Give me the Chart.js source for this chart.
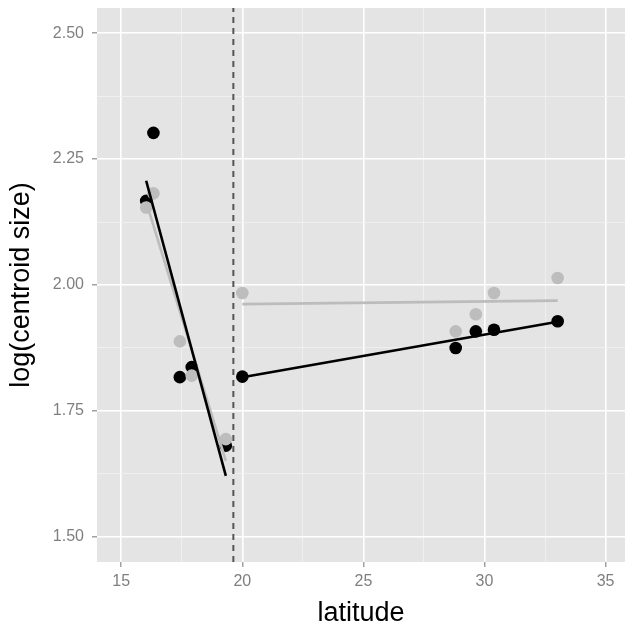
<!DOCTYPE html>
<html>
<head>
<meta charset="utf-8">
<script src="https://cdn.jsdelivr.net/npm/chart.js@4.4.1/dist/chart.umd.min.js"></script>
<style>
  html, body { margin: 0; padding: 0; background: #fff; overflow: hidden; }
  #wrap { width: 625px; height: 625px; }
  canvas { display: block; }
</style>
</head>
<body>
<div id="wrap"><canvas id="chart" width="625" height="625"></canvas></div>
<script>
// site latitudes (shared by both groups)
var latitudes = [16.03, 16.33, 17.42, 17.91, 19.32, 20.0, 28.81, 29.64, 30.39, 33.02];
// log(centroid size)
var sizeBlack = [2.167, 2.302, 1.817, 1.837, 1.681, 1.818, 1.875, 1.908, 1.911, 1.928];
var sizeGrey  = [2.154, 2.182, 1.888, 1.820, 1.694, 1.984, 1.908, 1.942, 1.984, 2.014];

// fitted segments: [start, end]
var fitLatSouth = [16.03, 19.32];
var fitLatNorth = [20.0, 33.02];
var fitBlackSouth = [2.207, 1.621];
var fitBlackNorth = [1.817, 1.927];
var fitGreySouth  = [2.165, 1.651];
var fitGreyNorth  = [1.962, 1.969];

// breakpoint
var breakLat = 19.63;

var xMin = 14, xMax = 35.8;
var yMin = 1.45, yMax = 2.55;
var xMajor = [15, 20, 25, 30, 35];
var xMinor = [17.5, 22.5, 27.5, 32.5];
var yMajor = [1.5, 1.75, 2.0, 2.25, 2.5];
var yMinor = [1.625, 1.875, 2.125, 2.375];

function pts(xs, ys) {
    var out = [];
    for (var i = 0; i < xs.length; i++) out.push({x: xs[i], y: ys[i]});
    return out;
}
function isMajor(list, v) {
    for (var i = 0; i < list.length; i++) if (Math.abs(list[i] - v) < 1e-6) return true;
    return false;
}

var panelBg = {
    id: 'panelBg',
    // panel runs to the right edge of the picture, like the cropped original
    afterLayout: function (chart) {
        var x = chart.scales.x;
        chart.chartArea.right = chart.width;
        chart.chartArea.width = chart.width - chart.chartArea.left;
        x.right = chart.width;
        x.width = chart.width - x.left;
        x.configure();
    },
    beforeDraw: function (chart) {
        var a = chart.chartArea, ctx = chart.ctx;
        ctx.save();
        ctx.fillStyle = '#e4e4e4';
        ctx.fillRect(a.left, a.top, a.right - a.left, a.bottom - a.top);
        ctx.restore();
    }
};

var lineStyle = function (color) {
    return { showLine: true, pointRadius: 0, borderColor: color, borderWidth: 2.6, fill: false };
};

var ctx = document.getElementById('chart').getContext('2d');
new Chart(ctx, {
    type: 'scatter',
    data: {
        datasets: [
            Object.assign({ data: pts(fitLatSouth, fitBlackSouth) }, lineStyle('#000000')),
            Object.assign({ data: pts(fitLatNorth, fitBlackNorth) }, lineStyle('#000000')),
            Object.assign({ data: pts(fitLatSouth, fitGreySouth) }, lineStyle('#bcbcbc')),
            Object.assign({ data: pts(fitLatNorth, fitGreyNorth) }, lineStyle('#bcbcbc')),
            {
                data: pts(latitudes, sizeGrey),
                pointRadius: 6.3, pointBackgroundColor: '#bdbdbd', pointBorderWidth: 0
            },
            {
                data: pts(latitudes, sizeBlack),
                pointRadius: 6.3, pointBackgroundColor: '#000000', pointBorderWidth: 0
            },
            {
                data: pts([breakLat, breakLat], [yMin, yMax]),
                showLine: true, pointRadius: 0, borderColor: '#555555',
                borderWidth: 2, borderDash: [6, 5]
            }
        ]
    },
    options: {
        responsive: false,
        animation: false,
        layout: { padding: { top: 8, right: 0, left: 0, bottom: 0 } },
        plugins: { legend: { display: false }, tooltip: { enabled: false } },
        scales: {
            x: {
                type: 'linear', min: xMin, max: xMax,
                afterBuildTicks: function (s) {
                    s.ticks = xMajor.concat(xMinor).sort(function (a, b) { return a - b; })
                        .map(function (v) { return {value: v}; });
                },
                afterFit: function (s) {
                    s.height = 63;
                    s.paddingLeft = 0;
                    s.paddingRight = 0;
                },
                border: { display: false },
                grid: {
                    color: function (c) { return isMajor(xMajor, c.tick.value) ? '#ffffff' : '#f1f1f1'; },
                    lineWidth: function (c) { return isMajor(xMajor, c.tick.value) ? 1.6 : 0.8; },
                    tickColor: function (c) { return isMajor(xMajor, c.tick.value) ? '#8a8a8a' : 'rgba(0,0,0,0)'; },
                    tickWidth: 1.2,
                    tickLength: 5
                },
                ticks: {
                    autoSkip: false, maxRotation: 0, padding: 5,
                    color: '#7f7f7f',
                    font: { family: 'Liberation Sans, Arial, sans-serif', size: 16 },
                    callback: function (v) { return isMajor(xMajor, v) ? String(v) : ''; }
                },
                title: {
                    display: true, text: 'latitude', color: '#000',
                    font: { family: 'Liberation Sans, Arial, sans-serif', size: 27, lineHeight: 0.8 },
                    padding: { top: 0, bottom: 1 }
                }
            },
            y: {
                type: 'linear', min: yMin, max: yMax,
                afterBuildTicks: function (s) {
                    s.ticks = yMajor.concat(yMinor).sort(function (a, b) { return a - b; })
                        .map(function (v) { return {value: v}; });
                },
                afterFit: function (s) {
                    s.width = 97;
                    s.paddingTop = 0;
                    s.paddingBottom = 0;
                },
                border: { display: false },
                grid: {
                    color: function (c) { return isMajor(yMajor, c.tick.value) ? '#ffffff' : '#f1f1f1'; },
                    lineWidth: function (c) { return isMajor(yMajor, c.tick.value) ? 1.6 : 0.8; },
                    tickColor: function (c) { return isMajor(yMajor, c.tick.value) ? '#8a8a8a' : 'rgba(0,0,0,0)'; },
                    tickWidth: 1.2,
                    tickLength: 5
                },
                ticks: {
                    autoSkip: false, padding: 8,
                    color: '#7f7f7f',
                    font: { family: 'Liberation Sans, Arial, sans-serif', size: 16 },
                    callback: function (v) { return isMajor(yMajor, v) ? v.toFixed(2) : ''; }
                },
                title: {
                    display: true, text: 'log(centroid size)', color: '#000',
                    font: { family: 'Liberation Sans, Arial, sans-serif', size: 27, lineHeight: 1 },
                    padding: { top: 8, bottom: 0 }
                }
            }
        }
    },
    plugins: [panelBg]
});
</script>
</body>
</html>
